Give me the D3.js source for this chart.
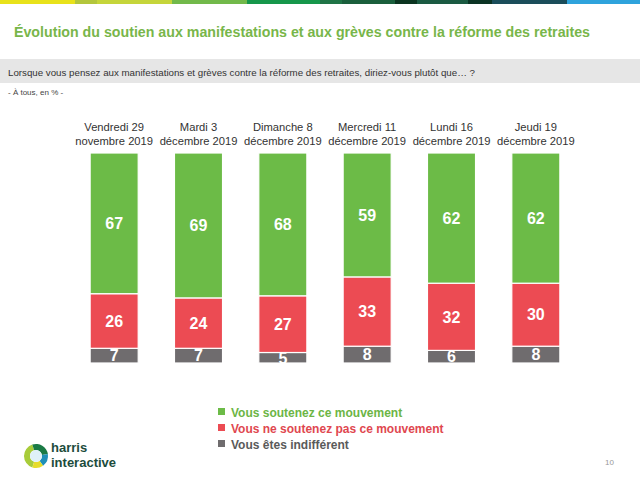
<!DOCTYPE html>
<html><head><meta charset="utf-8">
<script src="https://cdn.jsdelivr.net/npm/d3@7"></script>
<style>html,body{margin:0;padding:0;background:#fff;}svg{display:block;font-family:"Liberation Sans",Arial,sans-serif;}</style>
</head><body>
<script>
const categoriesLine1 = ["Vendredi 29","Mardi 3","Dimanche 8","Mercredi 11","Lundi 16","Jeudi 19"];
const categoriesLine2 = ["novembre 2019","décembre 2019","décembre 2019","décembre 2019","décembre 2019","décembre 2019"];
const soutenez = [67,69,68,59,62,62];
const neSoutenezPas = [26,24,27,33,32,30];
const indifferent = [7,7,5,8,6,8];
const seriesNames = ["Vous soutenez ce mouvement","Vous ne soutenez pas ce mouvement","Vous êtes indifférent"];
const seriesColors = ["#6cbb47","#ec4b53","#6f6c6e"];
const legendColors = ["#6cb545","#e0474f","#5a5a5a"];
const stripeStops = [0,75,97,172,247,320,342,395,417,468,492,567,640];
const stripeColors = ["#e8e21a","#b3c63c","#c5d53a","#72b94a","#16974b","#1f7446","#1a5f3c","#0b3420","#1b5a42","#0b3324","#1b4d5a","#2ea3dc"];

const W = 640, H = 480;
const svg = d3.select("body").append("svg").attr("width", W).attr("height", H);

// top stripe
svg.selectAll("rect.stripe").data(stripeColors).enter().append("rect")
  .attr("x", (d,i)=>stripeStops[i]).attr("y",0)
  .attr("width",(d,i)=>stripeStops[i+1]-stripeStops[i]).attr("height",4)
  .attr("fill", d=>d);

// title
svg.append("text").attr("x",14).attr("y",37)
  .attr("font-size",14.5).attr("font-weight","bold").attr("fill","#78b64a")
  .attr("textLength",576).attr("lengthAdjust","spacingAndGlyphs")
  .text("Évolution du soutien aux manifestations et aux grèves contre la réforme des retraites");

// grey band
svg.append("rect").attr("x",0).attr("y",59).attr("width",W).attr("height",24).attr("fill","#e6e6e6");
svg.append("text").attr("x",8).attr("y",75.5).attr("font-size",9.5).attr("fill","#333")
  .attr("textLength",467).attr("lengthAdjust","spacingAndGlyphs")
  .text("Lorsque vous pensez aux manifestations et grèves contre la réforme des retraites, diriez-vous plutôt que… ?");
svg.append("text").attr("x",8).attr("y",95).attr("font-size",8).attr("fill","#444")
  .text("- À tous, en % -");

// chart
const idx = d3.range(categoriesLine1.length);
const x = d3.scaleBand().domain(idx).range([72,578]).paddingInner(0.43).paddingOuter(0.215);
const y = d3.scaleLinear().domain([0,100]).range([363,153]);

const rows = idx.map(i => ({i, s: soutenez[i], n: neSoutenezPas[i], d: indifferent[i]}));
const stack = d3.stack().keys(["d","n","s"])(rows);
const colorByKey = {s: seriesColors[0], n: seriesColors[1], d: seriesColors[2]};

const g = svg.append("g");
stack.forEach(layer => {
  const lg = g.append("g");
  lg.selectAll("rect").data(layer).enter().append("rect")
    .attr("x", d => x(d.data.i)).attr("width", x.bandwidth())
    .attr("y", d => y(d[1])).attr("height", d => y(d[0]) - y(d[1]))
    .attr("fill", colorByKey[layer.key])
    .attr("stroke","#fff").attr("stroke-width",1.2);
  lg.selectAll("text").data(layer).enter().append("text")
    .attr("x", d => x(d.data.i) + x.bandwidth()/2)
    .attr("y", d => (y(d[0]) + y(d[1]))/2)
    .attr("dy","0.36em")
    .attr("text-anchor","middle").attr("font-size",16).attr("font-weight","bold").attr("fill","#fff")
    .text(d => d[1]-d[0]);
});

// category labels
const cat = svg.append("g");
idx.forEach(i => {
  const t = cat.append("text").attr("text-anchor","middle").attr("font-size",11.2).attr("fill","#333");
  t.append("tspan").attr("x", x(i)+x.bandwidth()/2).attr("y",131).text(categoriesLine1[i]);
  t.append("tspan").attr("x", x(i)+x.bandwidth()/2).attr("y",145).text(categoriesLine2[i]);
});

// legend
const leg = svg.append("g");
seriesNames.forEach((n,i) => {
  leg.append("rect").attr("x",218).attr("y",408+i*16).attr("width",7).attr("height",7).attr("fill",seriesColors[i]);
  leg.append("text").attr("x",231).attr("y",416.5+i*16).attr("font-size",12).attr("font-weight","bold")
    .attr("fill",legendColors[i]).text(n);
});

// logo
const logo = svg.append("g").attr("transform","translate(36,456)");
const arc = d3.arc().innerRadius(6).outerRadius(12);
const logoParts = [
  {a0:-Math.PI*0.9, a1:-Math.PI*0.1, c:"#a8cc3a"},
  {a0:-Math.PI*0.1, a1:Math.PI*0.45, c:"#1a7a45"},
  {a0:Math.PI*0.45, a1:Math.PI*0.8, c:"#1f8fb8"},
  {a0:Math.PI*0.8, a1:Math.PI*1.1, c:"#e6dc2a"},
];
logo.selectAll("path").data(logoParts).enter().append("path")
  .attr("d", d => arc({startAngle:d.a0, endAngle:d.a1})).attr("fill", d=>d.c);
logo.append("circle").attr("r",6).attr("fill","#dff1f8");
svg.append("text").attr("x",51).attr("y",452).attr("font-size",13).attr("font-weight","bold").attr("fill","#1c4c3c").text("harris");
svg.append("text").attr("x",51).attr("y",467).attr("font-size",13).attr("font-weight","bold").attr("fill","#1c4c3c").text("interactive");

svg.append("text").attr("x",605).attr("y",465).attr("font-size",8).attr("fill","#999").text("10");
</script>
</body></html>
